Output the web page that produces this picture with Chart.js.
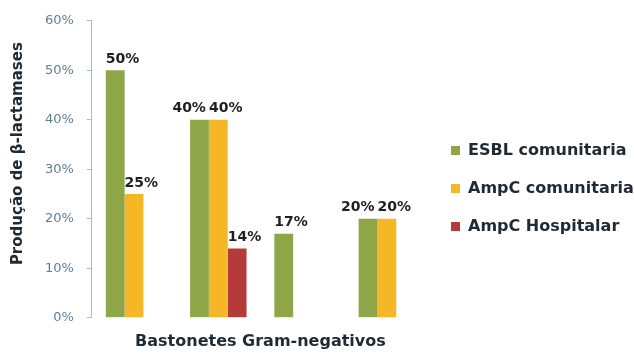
<!DOCTYPE html>
<html>
<head>
<meta charset="utf-8">
<script src="https://cdn.jsdelivr.net/npm/chart.js@4/dist/chart.umd.min.js"></script>
<style>
  html, body { margin: 0; padding: 0; background: #ffffff; }
  #wrap { width: 634px; height: 353px; }
</style>
</head>
<body>
<div id="wrap"><canvas id="grafico"></canvas></div>
<script>
// datos
var grupos = ["1", "2", "3", "4"];
var esblComunitaria = [50, 40, 17, 20];
var ampcComunitaria = [25, 40, null, 20];
var ampcHospitalar = [null, 14, null, null];
var nombres = ["ESBL comunitaria", "AmpC comunitaria", "AmpC Hospitalar"];
var colores = ["#8ea648", "#f6b726", "#b73a3b"];

var fuente = "'DejaVu Sans', sans-serif";

// etiquetas encima de cada barra, alineadas a la izquierda de la barra
// y corridas a la izquierda si chocan con la siguiente del mismo grupo
var etiquetas = {
  id: "etiquetas",
  afterDatasetsDraw: function (chart) {
    var ctx = chart.ctx;
    ctx.save();
    ctx.font = "bold 14px " + fuente;
    ctx.fillStyle = "#1f1f1f";
    ctx.textAlign = "left";
    ctx.textBaseline = "bottom";
    var n = chart.data.labels.length;
    for (var j = 0; j < n; j++) {
      var items = [];
      chart.data.datasets.forEach(function (ds, i) {
        if (ds.data[j] == null) return;
        var bar = chart.getDatasetMeta(i).data[j];
        var txt = ds.data[j] + "%";
        items.push({ txt: txt, x: bar.x - bar.width / 2, y: bar.y, w: ctx.measureText(txt).width });
      });
      for (var k = items.length - 2; k >= 0; k--) {
        var sig = items[k + 1];
        if (items[k].x + items[k].w > sig.x - 3 && Math.abs(items[k].y - sig.y) < 16) {
          items[k].x = sig.x - 3 - items[k].w;
        }
      }
      items.forEach(function (it) {
        ctx.fillText(it.txt, it.x, it.y - 4);
      });
    }
    ctx.restore();
  }
};

var grafico = new Chart(document.getElementById("grafico").getContext("2d"), {
  type: "bar",
  data: {
    labels: grupos,
    datasets: [
      { label: nombres[0], data: esblComunitaria, backgroundColor: colores[0] },
      { label: nombres[1], data: ampcComunitaria, backgroundColor: colores[1] },
      { label: nombres[2], data: ampcHospitalar, backgroundColor: colores[2] }
    ]
  },
  options: {
    responsive: true,
    maintainAspectRatio: false,
    animation: false,
    layout: { padding: { top: 12, left: 9, right: 0, bottom: 2 } },
    datasets: {
      bar: { categoryPercentage: 0.67, barPercentage: 1, skipNull: false }
    },
    plugins: {
      tooltip: { enabled: false },
      legend: {
        position: "right",
        align: "center",
        maxWidth: 205,
        title: { display: true, text: " ", padding: 1, font: { size: 10 } },
        labels: {
          boxWidth: 9,
          boxHeight: 9,
          padding: 22,
          color: "#1f2a33",
          font: { family: fuente, size: 16, weight: "bold" }
        }
      }
    },
    scales: {
      x: {
        grid: { display: false },
        border: { display: false },
        ticks: { display: false },
        title: {
          display: true,
          text: "Bastonetes Gram-negativos",
          color: "#1f2a33",
          font: { family: fuente, size: 16, weight: "bold" },
          padding: { top: 6, bottom: 0 }
        }
      },
      y: {
        min: 0,
        max: 60,
        ticks: {
          stepSize: 10,
          color: "#5f7d92",
          font: { family: fuente, size: 13 },
          padding: 13,
          callback: function (v) { return v + "%"; }
        },
        grid: { drawOnChartArea: false, drawTicks: true, tickLength: 5, color: "#9dbdd8" },
        border: { display: true, color: "#9dbdd8", width: 1 },
        title: {
          display: true,
          text: "\u00a0\u00a0\u00a0\u00a0\u00a0\u00a0Produção de β-lactamases",
          color: "#1f2a33",
          font: { family: fuente, size: 15, weight: "bold" },
          padding: { top: 0, bottom: 5 }
        }
      }
    }
  },
  plugins: [etiquetas]
});
</script>
</body>
</html>
